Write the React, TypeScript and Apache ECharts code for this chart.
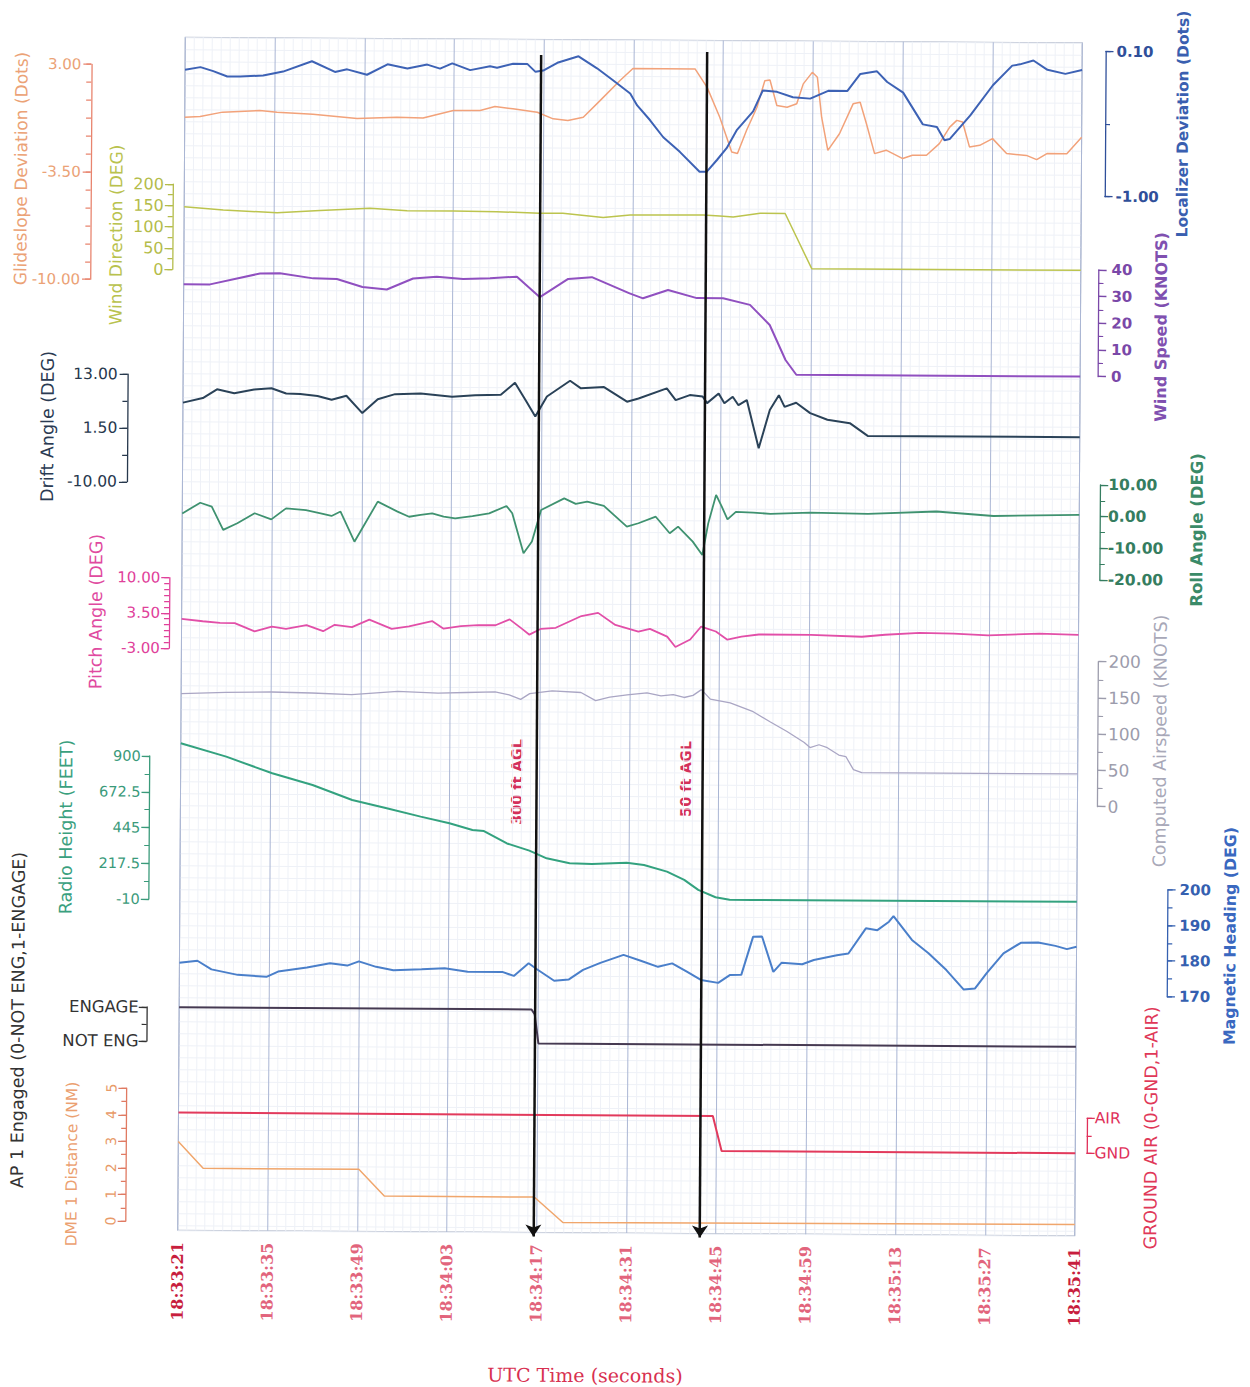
import React, { useEffect, useRef } from "react";
import * as echarts from "echarts";

type P = [number, number];

// ---------- time axis ----------
const TIME_START = 18 * 3600 + 33 * 60 + 21; // 18:33:21
const TIME_MAX = 140;
const TIME_STEP = 14;
const AGL_TIMES = [55.5, 81.5];
const AGL_LABELS = ["300 ft AGL", "50 ft AGL"];

// ---------- series data: [seconds after 18:33:21, value] ----------
const localizer: P[] = [
  [0, -0.08], [2.4, -0.06], [4.4, -0.09], [6.6, -0.13], [8.6, -0.13], [12.2, -0.12], [15.3, -0.09],
  [19.8, -0.01], [23.4, -0.09], [25.3, -0.07], [28.4, -0.11], [31.6, -0.03], [34.7, -0.06], [37.8, -0.03],
  [39.8, -0.06], [41.7, -0.02], [44.5, -0.07], [47.6, -0.04], [48.7, -0.05], [51.2, -0.02], [53.4, -0.02],
  [54.7, -0.08], [55.9, -0.07], [58.1, -0.01], [61.4, 0.04], [64.3, -0.05], [66.8, -0.14], [69.5, -0.24],
  [70.6, -0.33], [72.6, -0.44], [74.7, -0.57], [77.3, -0.68], [80.4, -0.83], [81.5, -0.83], [83.1, -0.74],
  [84.6, -0.65], [86.2, -0.51], [88.7, -0.37], [90.2, -0.21], [92.4, -0.22], [94.9, -0.26], [97.6, -0.27],
  [100.4, -0.21], [103.4, -0.21], [105.4, -0.08], [108.0, -0.06], [109.6, -0.14], [112.1, -0.22],
  [115.2, -0.46], [117.4, -0.48], [118.6, -0.58], [119.4, -0.57], [122.6, -0.39], [126.1, -0.16],
  [129.1, -0.01], [130.3, 0.0], [132.4, 0.03], [134.6, -0.04], [137.4, -0.07], [140, -0.04],
];

const glideslope: P[] = [
  [0, -0.16], [2.4, -0.11], [5.9, 0.16], [11.7, 0.27], [14.4, 0.18], [20.0, 0.06], [26.9, -0.18],
  [33.1, -0.08], [37.2, -0.12], [41.9, 0.35], [46.1, 0.36], [48.4, 0.6], [51.2, 0.47], [55.0, 0.27],
  [57.5, -0.12], [59.8, -0.21], [62.2, -0.01], [64.8, 1.0], [67.9, 2.22], [69.9, 2.95], [79.6, 2.95],
  [81.5, 1.84], [83.5, 0.04], [85.4, -2.06], [86.3, -2.15], [87.7, -0.74], [89.3, 0.66], [90.5, 2.27],
  [91.3, 2.31], [92.4, 0.77], [94.0, 0.67], [95.5, 0.88], [96.5, 2.09], [97.9, 2.79], [98.7, 2.49],
  [99.4, 0.08], [100.4, -1.92], [102.2, -0.91], [104.3, 0.9], [105.4, 1.0], [106.4, -0.3], [107.7, -2.1],
  [109.5, -1.89], [112.1, -2.39], [113.6, -2.19], [115.8, -2.18], [117.8, -1.47], [119.4, -0.47],
  [120.5, -0.06], [121.4, -0.16], [122.5, -1.66], [124.1, -1.56], [126.1, -1.15], [128.3, -2.05],
  [131.4, -2.15], [133.0, -2.4], [134.6, -2.03], [137.7, -2.03], [140, -1.03],
];

const windDirection: P[] = [
  [0, 147], [6.1, 140], [14.5, 134], [21.2, 140], [29.0, 146], [34.8, 141], [42.0, 141], [48.8, 140],
  [55.5, 137], [59.1, 137], [65.4, 128], [69.6, 134], [81.0, 135], [83.6, 133], [85.7, 131], [89.9, 140],
  [93.8, 140], [98.0, 11], [140, 11],
];

const windSpeed: P[] = [
  [0, 32.5], [4.1, 32.5], [11.9, 36.7], [15.0, 36.8], [20.2, 35.0], [23.9, 34.8], [27.9, 31.9],
  [31.7, 31.0], [35.8, 35.2], [39.5, 35.9], [43.6, 35.1], [47.8, 35.5], [52.0, 36.1], [55.6, 28.5],
  [60.0, 35.4], [63.7, 36.1], [69.6, 30.1], [71.7, 28.3], [75.6, 31.5], [80.1, 28.5], [84.2, 28.5],
  [88.4, 26.1], [91.5, 18.6], [94.0, 5.5], [95.7, 0], [140, 0],
];

const driftAngle: P[] = [
  [0, 7.0], [3.1, 8.0], [5.3, 9.9], [8.0, 9.1], [11.1, 9.9], [13.8, 10.2], [16.1, 9.1], [18.3, 9.0],
  [21.0, 8.6], [23.2, 7.8], [25.5, 8.7], [28.0, 5.0], [30.4, 8.0], [33.1, 9.1], [37.1, 9.3], [42.0, 8.6],
  [45.6, 9.0], [49.6, 9.1], [51.8, 11.7], [53.6, 7.7], [55.0, 4.5], [56.8, 8.8], [60.4, 12.2], [62.1, 10.6],
  [65.7, 10.9], [69.3, 7.8], [71.1, 8.5], [75.5, 10.7], [76.9, 8.2], [79.1, 9.3], [81.1, 9.0], [81.8, 7.6],
  [83.6, 9.7], [84.5, 7.6], [85.8, 9.0], [86.7, 7.2], [88.0, 8.3], [89.9, -2.0], [91.6, 6.2], [93.0, 9.4],
  [93.9, 6.9], [95.7, 7.8], [97.9, 5.6], [100.6, 4.2], [104.1, 3.5], [106.9, 0.8], [140, 0.8],
];

const rollAngle: P[] = [
  [0, -0.8], [2.8, 2.6], [4.6, 1.4], [6.4, -5.9], [8.6, -3.8], [11.3, -0.6], [13.9, -2.5], [16.2, 1.0],
  [19.3, 0.5], [21.6, -0.5], [23.3, -1.3], [24.7, 0.1], [26.9, -9.4], [30.5, 3.3], [33.6, 0.2], [35.4, -1.4],
  [37.2, -0.8], [39.0, -0.3], [40.8, -1.3], [42.6, -1.8], [45.3, -1.1], [47.9, -0.2], [50.6, 2.2],
  [51.5, -0.1], [53.3, -12.7], [54.6, -9.0], [56.0, 1.0], [59.6, 4.7], [61.4, 3.0], [63.2, 3.7], [65.8, 2.4],
  [69.4, -4.1], [71.2, -3.0], [73.9, -0.9], [76.1, -6.1], [77.4, -4.0], [79.7, -8.7], [81.2, -12.9],
  [82.1, -2.9], [83.3, 6.1], [84.2, 2.4], [85.1, -1.6], [86.4, 0.8], [89.1, 0.6], [91.8, 0.2], [98.0, 0.7],
  [107.0, 0.4], [117.7, 1.3], [126.6, 0.0], [140, 0.5],
];

const pitchAngle: P[] = [
  [0, 2.4], [3.3, 2.0], [6.0, 1.7], [8.3, 1.7], [11.4, 0.2], [14.1, 1.1], [16.3, 0.7], [19.5, 1.4],
  [22.1, 0.3], [23.9, 1.5], [26.6, 1.1], [29.3, 2.5], [32.8, 0.8], [35.5, 1.3], [39.1, 2.3], [40.9, 0.9],
  [43.6, 1.4], [46.3, 1.6], [49.0, 1.6], [51.2, 2.7], [53.0, 1.1], [54.3, -0.1], [56.1, 1.0], [58.4, 1.2],
  [62.4, 3.4], [65.0, 4.0], [67.7, 1.8], [71.3, 0.6], [73.1, 1.1], [75.8, -0.3], [77.1, -2.2], [79.4, -0.8],
  [81.1, 1.6], [83.4, 0.7], [85.2, -0.8], [87.4, -0.2], [90.1, 0.2], [98.2, 0.2], [106.2, -0.1],
  [109.8, 0.3], [115.2, 0.7], [120.5, 0.6], [125.9, 0.3], [133.9, 0.7], [140, 0.5],
];

const airspeed: P[] = [
  [0, 148], [7.0, 150], [14.1, 151], [20.4, 150], [26.6, 148], [33.8, 153], [40.1, 151], [44.5, 152],
  [49.0, 153], [51.2, 149], [53.0, 143], [54.4, 151], [57.9, 155], [62.4, 153], [64.7, 142], [66.9, 147],
  [69.6, 150], [72.7, 153], [74.9, 149], [76.8, 151], [78.5, 147], [79.9, 150], [81.2, 158], [82.6, 145],
  [85.7, 140], [89.3, 128], [92.0, 114], [94.6, 101], [97.3, 86], [98.2, 79], [99.6, 83], [100.9, 79],
  [102.7, 69], [103.8, 67], [105.0, 49], [106.3, 45], [140, 45],
];

const radioHeight: P[] = [
  [0, 982], [7.1, 899], [14.3, 795], [20.6, 722], [26.8, 628], [32.2, 577], [37.5, 525], [42.0, 484],
  [45.6, 442], [47.4, 436], [51.0, 358], [54.5, 313], [57.2, 265], [60.8, 234], [64.3, 230], [69.7, 240],
  [72.4, 226], [76.0, 185], [78.7, 133], [80.9, 70], [83.6, 24], [85.8, 8], [89.4, 8], [140, 10],
];

const magneticHeading: P[] = [
  [0, 177.8], [2.8, 178.4], [5.0, 176.0], [9.1, 174.5], [13.6, 174.0], [15.4, 175.5], [19.9, 176.7],
  [23.5, 177.9], [26.2, 177.3], [28.0, 178.5], [30.7, 177.0], [33.4, 176.1], [37.8, 176.4], [41.4, 176.7],
  [45.0, 175.8], [50.4, 175.8], [52.2, 174.7], [54.5, 178.3], [55.8, 176.6], [58.5, 173.4], [60.8, 173.8],
  [63.0, 176.5], [65.7, 178.5], [69.3, 180.8], [72.0, 179.2], [74.7, 177.5], [76.9, 178.5], [79.2, 176.2],
  [81.4, 173.9], [84.1, 173.1], [85.9, 175.3], [87.7, 175.4], [89.5, 186.1], [90.9, 186.2], [92.7, 176.3],
  [94.0, 178.9], [97.2, 178.5], [99.0, 179.7], [102.6, 181.1], [104.4, 181.6], [107.1, 188.7],
  [108.9, 188.2], [110.7, 190.6], [111.4, 192.2], [114.3, 185.5], [116.9, 181.8], [119.7, 177.1],
  [122.4, 171.7], [124.2, 172.0], [126.0, 176.3], [128.6, 181.9], [131.3, 184.9], [134.0, 185.0],
  [136.7, 184.1], [138.5, 183.2], [140, 183.9],
];

const apEngaged: P[] = [[0, 1], [55.0, 1], [55.5, 0.85], [56.1, 0], [140, 0]];
const groundAir: P[] = [[0, 1], [83.4, 1], [84.8, 0], [140, 0]];
const dmeDistance: P[] = [[0, 3], [3.9, 2], [28.2, 2], [32.2, 1], [55.6, 1], [60.1, 0.05], [140, 0.1]];

// ---------- tick labels ----------
const GLIDE_TICKS = [-10, -3.5, 3];
const WDIR_TICKS = [0, 50, 100, 150, 200];
const LOC_TICKS = [-1, 0.1];
const WSPD_TICKS = [0, 10, 20, 30, 40];
const DRIFT_TICKS = [-10, 1.5, 13];
const ROLL_TICKS = [-20, -10, 0, 10];
const PITCH_TICKS = [-3, 3.5, 10];
const CAS_TICKS = [0, 50, 100, 150, 200];
const RALT_TICKS = [-10, 217.5, 445, 672.5, 900];
const HDG_TICKS = [170, 180, 190, 200];
const AP_TICKS = [0, 1];
const DME_TICKS = [0, 1, 2, 3, 4, 5];
const GND_TICKS = [0, 1];

// ---------- layout / styles ----------
const GRID_LEFT = 181.5;
const GRID_RIGHT = 171.5;
const FRAME_TOP = 40;
const FRAME_H = 1193;
const ANNOT_H = 1260;
const SANS = "DejaVu Sans";
const SERIF = "DejaVu Serif";

const pad = (n: number) => (n < 10 ? "0" + n : "" + n);
const fmtTime = (v: number) => {
  const s = Math.round(TIME_START + v);
  return `${Math.floor(s / 3600)}:${pad(Math.floor((s % 3600) / 60))}:${pad(s % 60)}`;
};
const minorTicks = (min: number, max: number, step: number) => {
  const out: number[] = [];
  for (let v = min; v <= max + 1e-9; v += step) out.push(+v.toFixed(6));
  return out;
};
const f2 = (v: number) => v.toFixed(2);

type Panel = {
  data: P[]; min: number; max: number; major: number[]; minorStep: number;
  side: "left" | "right"; offset: number; top: number; height: number;
  color: string; width: number; axisColor: string; labelColor: string;
  fmt: (v: number) => string; fontSize: number; bold?: boolean; margin: number; rotate?: number;
};

const PANELS: Panel[] = [
  { data: glideslope, min: -10, max: 3, major: GLIDE_TICKS, minorStep: 13 / 12, side: "left", offset: 93.7, top: 67.7, height: 215,
    color: "#f2a27a", width: 1.5, axisColor: "#e8846e", labelColor: "#eba276", fmt: f2, fontSize: 15, margin: 10 },
  { data: windDirection, min: 0, max: 200, major: WDIR_TICKS, minorStep: 25, side: "left", offset: 11.4, top: 186.9, height: 85.3,
    color: "#bcc44e", width: 1.5, axisColor: "#b4bc4a", labelColor: "#b4bc4a", fmt: String, fontSize: 16, margin: 9 },
  { data: localizer, min: -1, max: 0.1, major: LOC_TICKS, minorStep: 0.55, side: "right", offset: 23.3, top: 48.7, height: 145,
    color: "#3d62b5", width: 2, axisColor: "#2f4f9a", labelColor: "#2f4f9a", fmt: f2, fontSize: 15, bold: true, margin: 11 },
  { data: windSpeed, min: 0, max: 40, major: WSPD_TICKS, minorStep: 5, side: "right", offset: 17.8, top: 267, height: 106.7,
    color: "#9050c0", width: 2, axisColor: "#7a48a8", labelColor: "#7a48a8", fmt: String, fontSize: 15, bold: true, margin: 13 },
  { data: driftAngle, min: -10, max: 13, major: DRIFT_TICKS, minorStep: 5.75, side: "left", offset: 55.5, top: 377.4, height: 107.4,
    color: "#2a4258", width: 2, axisColor: "#27384d", labelColor: "#27384d", fmt: f2, fontSize: 15.5, margin: 10 },
  { data: rollAngle, min: -20, max: 10, major: ROLL_TICKS, minorStep: 5, side: "right", offset: 20.8, top: 482, height: 95,
    color: "#3f9270", width: 1.8, axisColor: "#357d60", labelColor: "#357d60", fmt: f2, fontSize: 15.5, bold: true, margin: 8 },
  { data: pitchAngle, min: -3, max: 10, major: PITCH_TICKS, minorStep: 13 / 12, side: "left", offset: 12.6, top: 580.5, height: 70.5,
    color: "#e24fa8", width: 1.8, axisColor: "#e0409a", labelColor: "#e0409a", fmt: f2, fontSize: 15, margin: 9 },
  { data: airspeed, min: 0, max: 200, major: CAS_TICKS, minorStep: 25, side: "right", offset: 20.1, top: 658.7, height: 145,
    color: "#aaa6c4", width: 1.3, axisColor: "#9c9cac", labelColor: "#9c9cac", fmt: String, fontSize: 17, margin: 10 },
  { data: radioHeight, min: -10, max: 900, major: RALT_TICKS, minorStep: 113.75, side: "left", offset: 31, top: 759, height: 143,
    color: "#33a27f", width: 2, axisColor: "#3a9a7a", labelColor: "#3a9a7a", fmt: String, fontSize: 14.5, margin: 9 },
  { data: magneticHeading, min: 170, max: 200, major: HDG_TICKS, minorStep: 5, side: "right", offset: 90.7, top: 886.6, height: 106.7,
    color: "#4a7fca", width: 2, axisColor: "#3560b0", labelColor: "#3560b0", fmt: String, fontSize: 15, bold: true, margin: 12 },
  { data: apEngaged, min: 0, max: 1, major: AP_TICKS, minorStep: 0.5, side: "left", offset: 32.4, top: 1010, height: 34,
    color: "#463a52", width: 2, axisColor: "#333333", labelColor: "#333333", fmt: (v) => (v >= 1 ? "ENGAGE" : "NOT ENG"), fontSize: 16.5, margin: 8 },
  { data: dmeDistance, min: 0, max: 5, major: DME_TICKS, minorStep: 0.5, side: "left", offset: 52.2, top: 1091.2, height: 133,
    color: "#f0a66c", width: 1.5, axisColor: "#e07a62", labelColor: "#e89a68", fmt: String, fontSize: 14, margin: 8, rotate: 90 },
  { data: groundAir, min: 0, max: 1, major: GND_TICKS, minorStep: 0.5, side: "right", offset: 11.3, top: 1115.4, height: 35,
    color: "#e23a5c", width: 2, axisColor: "#e0305a", labelColor: "#e0305a", fmt: (v) => (v >= 1 ? "AIR" : "GND"), fontSize: 15.5, margin: 8 },
];

const NAMES = [
  { text: "Glideslope Deviation (Dots)", x: 18.1, y: 172.3, color: "#eba276", size: 17 },
  { text: "Wind Direction (DEG)", x: 113.5, y: 238.2, color: "#b9c24e", size: 17 },
  { text: "Localizer Deviation (Dots)", x: 1179.8, y: 120.5, color: "#3a5fb0", size: 15.5, bold: true },
  { text: "Wind Speed (KNOTS)", x: 1159.1, y: 323.6, color: "#8050b0", size: 16, bold: true },
  { text: "Drift Angle (DEG)", x: 46.2, y: 430.1, color: "#2a3a52", size: 17.5 },
  { text: "Roll Angle (DEG)", x: 1196.3, y: 526.4, color: "#3a8a68", size: 16.5, bold: true },
  { text: "Pitch Angle (DEG)", x: 95.8, y: 614.8, color: "#e04aa0", size: 17.5 },
  { text: "Computed Airspeed (KNOTS)", x: 1160.7, y: 737.6, color: "#a8a8b8", size: 17.5 },
  { text: "Radio Height (FEET)", x: 67.2, y: 830.5, color: "#3aa07e", size: 17.5 },
  { text: "Magnetic Heading (DEG)", x: 1231.9, y: 932.2, color: "#3a68c0", size: 15.8, bold: true },
  { text: "AP 1 Engaged (0-NOT ENG,1-ENGAGE)", x: 20.4, y: 1023.8, color: "#333333", size: 17.5 },
  { text: "DME 1 Distance (NM)", x: 75.3, y: 1167.5, color: "#eba070", size: 15.5 },
  { text: "GROUND AIR (0-GND,1-AIR)", x: 1154.1, y: 1124.7, color: "#e03858", size: 17.5 },
];

// annotation geometry (pixels in the annotation grid, which starts at the page top)
const AGL_STYLE = [
  { x: 517.9, y: 782.7, top: 55.5 },
  { x: 686.9, y: 778.6, top: 51.5 },
];
const ARROW_BOTTOM = 1237;

function buildOption() {
  const grids: any[] = [
    { left: GRID_LEFT, right: GRID_RIGHT, top: FRAME_TOP, height: FRAME_H, show: true, borderColor: "#aeb6c8", borderWidth: 1, backgroundColor: "transparent" },
  ];
  const xAxes: any[] = [
    {
      type: "value", gridIndex: 0, min: 0, max: TIME_MAX, interval: TIME_STEP, position: "bottom",
      axisLine: { show: false, onZero: false }, axisTick: { show: false },
      axisLabel: {
        rotate: 90, margin: 12, showMinLabel: true, showMaxLabel: true, hideOverlap: false,
        formatter: (v: number) => (v === 0 || v === TIME_MAX ? `{e|${fmtTime(v)}}` : `{m|${fmtTime(v)}}`),
        rich: {
          e: { color: "#c81e3e", fontWeight: "bold", fontSize: 16, fontFamily: SERIF },
          m: { color: "#e2647c", fontWeight: "bold", fontSize: 16, fontFamily: SERIF },
        },
      },
      splitLine: { show: true, lineStyle: { color: "#aab6d4", width: 1 } },
      minorTick: { show: false, splitNumber: 10 },
      minorSplitLine: { show: true, lineStyle: { color: "#eef1f7", width: 1 } },
    },
  ];
  const yAxes: any[] = [
    {
      type: "value", gridIndex: 0, min: 0, max: FRAME_H, inverse: true, interval: 12,
      axisLine: { show: false, onZero: false }, axisTick: { show: false }, axisLabel: { show: false },
      splitLine: { show: true, lineStyle: { color: "#eef1f7", width: 1 } },
    },
  ];
  const series: any[] = [];

  PANELS.forEach((p, i) => {
    const gi = i + 1;
    grids.push({ left: GRID_LEFT, right: GRID_RIGHT, top: p.top, height: p.height, show: false });
    xAxes.push({ type: "value", gridIndex: gi, min: 0, max: TIME_MAX, show: false });
    const base = {
      type: "value", gridIndex: gi, min: p.min, max: p.max, position: p.side, offset: p.offset,
      splitLine: { show: false }, minorTick: { show: false }, minorSplitLine: { show: false },
    };
    const mainIdx = yAxes.length;
    yAxes.push({
      ...base,
      axisLine: { show: true, onZero: false, lineStyle: { color: p.axisColor, width: 1.3 } },
      axisTick: { show: true, inside: false, length: 5, customValues: minorTicks(p.min, p.max, p.minorStep), lineStyle: { color: p.axisColor, width: 1.2 } },
      axisLabel: { show: false },
    });
    yAxes.push({
      ...base,
      axisLine: { show: false, onZero: false },
      axisTick: { show: true, inside: false, length: 8, customValues: p.major, lineStyle: { color: p.axisColor, width: 1.3 } },
      axisLabel: {
        show: true, customValues: p.major, formatter: p.fmt, color: p.labelColor, fontSize: p.fontSize,
        fontFamily: SANS, fontWeight: p.bold ? "bold" : "normal", margin: p.margin, rotate: p.rotate || 0,
        showMinLabel: true, showMaxLabel: true, hideOverlap: false,
      },
    });
    series.push({
      type: "line", xAxisIndex: gi, yAxisIndex: mainIdx, data: p.data, symbol: "none", showSymbol: false,
      clip: false, silent: true, z: 3, lineStyle: { color: p.color, width: p.width },
    });
  });

  // annotation grid: spans the page height so arrows can run below the frame
  const ag = grids.length;
  grids.push({ left: GRID_LEFT, right: GRID_RIGHT, top: 0, height: ANNOT_H, show: false });
  xAxes.push({ type: "value", gridIndex: ag, min: 0, max: TIME_MAX, show: false });
  const ay = yAxes.length;
  yAxes.push({ type: "value", gridIndex: ag, min: 0, max: ANNOT_H, inverse: true, show: false });
  series.push({
    type: "line", xAxisIndex: ag, yAxisIndex: ay, data: [[0, 0]], symbol: "none", silent: true, z: 5,
    lineStyle: { opacity: 0 },
    markLine: {
      silent: true, symbol: ["none", "arrow"], symbolSize: 12, label: { show: false },
      lineStyle: { color: "#111111", width: 2.5, type: "solid" },
      emphasis: { disabled: true },
      data: AGL_TIMES.map((t, i) => [{ coord: [t, AGL_STYLE[i].top] }, { coord: [t, ARROW_BOTTOM] }]),
    },
  });

  const graphics: any[] = NAMES.map((n) => ({
    type: "text", x: n.x, y: n.y, rotation: Math.PI / 2, silent: true,
    style: { text: n.text, fill: n.color, fontSize: n.size, fontFamily: SANS, fontWeight: n.bold ? "bold" : "normal", align: "center", verticalAlign: "middle" },
  }));
  AGL_LABELS.forEach((t, i) => {
    graphics.push({
      type: "text", x: AGL_STYLE[i].x, y: AGL_STYLE[i].y, rotation: Math.PI / 2, silent: true,
      style: { text: t, fill: "#d4305a", fontSize: 14.5, fontFamily: SANS, fontWeight: "bold", align: "center", verticalAlign: "middle" },
    });
  });
  graphics.push({
    type: "text", x: 589.7, y: 1375.3, silent: true,
    style: { text: "UTC Time (seconds)", fill: "#d83050", fontSize: 19, fontFamily: SERIF, align: "center", verticalAlign: "middle" },
  });

  return {
    animation: false,
    backgroundColor: "#ffffff",
    grid: grids,
    xAxis: xAxes,
    yAxis: yAxes,
    series,
    graphic: { elements: graphics },
  };
}

export default function App() {
  const ref = useRef<HTMLDivElement>(null);
  useEffect(() => {
    if (!ref.current) return;
    const chart = echarts.init(ref.current, null, { renderer: "svg" });
    chart.setOption(buildOption() as any);
    return () => chart.dispose();
  }, []);
  return (
    <div
      ref={ref}
      style={{
        position: "absolute", left: 0, top: 0, width: 1250, height: 1387,
        transform: "rotate(0.36deg)", transformOrigin: "625px 636px",
      }}
    />
  );
}
